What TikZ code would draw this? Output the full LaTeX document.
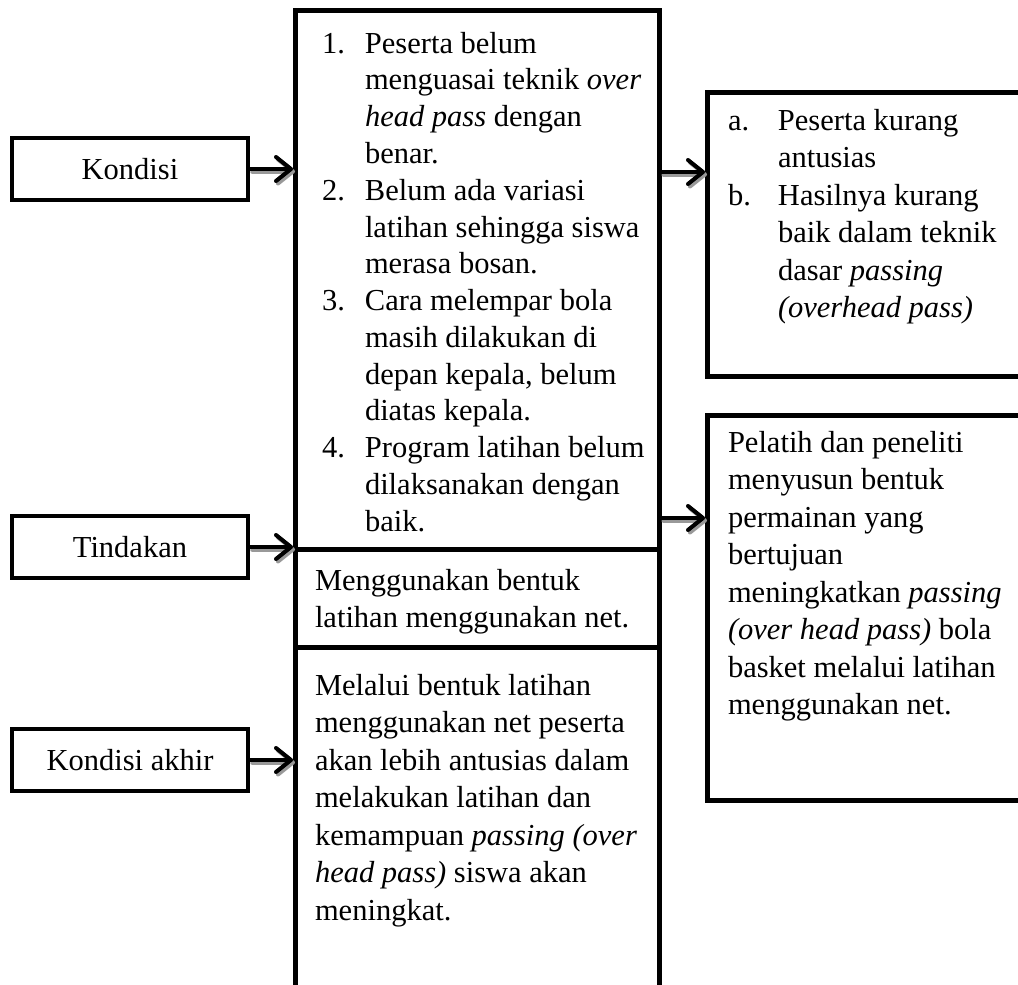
\documentclass[tikz,border=0pt]{standalone}
\usepackage{fontspec}
\setmainfont{Liberation Serif}
\usetikzlibrary{arrows.meta}

\tikzset{
  frame/.style={draw=black, line width=4.5pt, inner sep=0pt, fill=none},
  labelbox/.style={frame, minimum width=236pt, minimum height=62pt,
    font=\fontsize{30.5}{37.5}\selectfont},
  txt/.style={anchor=base west, inner sep=0pt, outer sep=0pt},
  arr/.style={line width=4pt, line cap=round, line join=round,
    -{Straight Barb[length=15pt, width=24pt, round]}},
  arrshadow/.style={arr, draw=black!40, transform canvas={shift={(2pt,-2.5pt)}}},
}
% a text block whose first baseline sits on the node's base anchor
\newcommand{\blocktext}[3][37.5]{\parbox[t]{#2}{\fontsize{30.5}{#1}\selectfont #3}}

\begin{document}
\begin{tikzpicture}[x=1pt, y=-1pt]
  \clip (0,0) rectangle (1018,985);
  \fill[white] (0,0) rectangle (1018,985);

  % left-hand labels
  \node[labelbox] (kond) at (130,169) {Kondisi};
  \node[labelbox] (tind) at (130,547) {Tindakan};
  \node[labelbox] (akhir) at (130,760) {Kondisi akhir};

  % middle column
  \node[frame, anchor=north west, minimum width=364pt, minimum height=539pt] (masalah) at (293,8) {};
  \node[frame, anchor=north west, minimum width=364pt, minimum height=98pt] (aksi) at (293,547) {};
  \node[frame, anchor=north west, minimum width=364pt, minimum height=370pt] (hasil) at (293,645) {};

  % right column
  \node[frame, anchor=north west, minimum width=335pt, minimum height=284pt] (akibat) at (705,90) {};
  \node[frame, anchor=north west, minimum width=335pt, minimum height=385pt] (rencana) at (705,413) {};

  % texts
  \node[txt] (t1) at (322,53) {\blocktext[36.8]{340pt}{%
    \makebox[43pt][l]{1.}Peserta belum\\
    \hspace*{43pt}menguasai teknik \textit{over}\\
    \hspace*{43pt}\textit{head pass} dengan\\
    \hspace*{43pt}benar.\\
    \makebox[43pt][l]{2.}Belum ada variasi\\
    \hspace*{43pt}latihan sehingga siswa\\
    \hspace*{43pt}merasa bosan.\\
    \makebox[43pt][l]{3.}Cara melempar bola\\
    \hspace*{43pt}masih dilakukan di\\
    \hspace*{43pt}depan kepala, belum\\
    \hspace*{43pt}diatas kepala.\\
    \makebox[43pt][l]{4.}Program latihan belum\\
    \hspace*{43pt}dilaksanakan dengan\\
    \hspace*{43pt}baik.}};

  \node[txt] (t2) at (315,590) {\blocktext{340pt}{%
    Menggunakan bentuk\\
    latihan menggunakan net.}};

  \node[txt] (t3) at (315,695) {\blocktext{340pt}{%
    Melalui bentuk latihan\\
    menggunakan net peserta\\
    akan lebih antusias dalam\\
    melakukan latihan dan\\
    kemampuan \textit{passing (over}\\
    \textit{head pass)} siswa akan\\
    meningkat.}};

  \node[txt] (t4) at (728,130) {\blocktext{290pt}{%
    \makebox[50pt][l]{a.}Peserta kurang\\
    \hspace*{50pt}antusias\\
    \makebox[50pt][l]{b.}Hasilnya kurang\\
    \hspace*{50pt}baik dalam teknik\\
    \hspace*{50pt}dasar \textit{passing}\\
    \hspace*{50pt}\textit{(overhead pass)}}};

  \node[txt] (t5) at (728,452) {\blocktext{290pt}{%
    Pelatih dan peneliti\\
    menyusun bentuk\\
    permainan yang\\
    bertujuan\\
    meningkatkan \textit{passing}\\
    \textit{(over head pass)} bola\\
    basket melalui latihan\\
    menggunakan net.}};

  % connectors with a soft grey shadow
  \coordinate (c1) at (masalah.west |- kond.east);
  \coordinate (c2) at (aksi.west |- tind.east);
  \coordinate (c3) at (hasil.west |- akhir.east);
  \coordinate (r1s) at (masalah.east |- 0,172);
  \coordinate (r1e) at (akibat.west |- 0,172);
  \coordinate (r2s) at (masalah.east |- 0,518);
  \coordinate (r2e) at (rencana.west |- 0,518);

  \foreach \a/\b in {kond.east/c1, tind.east/c2, akhir.east/c3, r1s/r1e, r2s/r2e}{
    \draw[arrshadow] (\a) -- (\b);
    \draw[arr] (\a) -- (\b);
  }
\end{tikzpicture}
\end{document}
